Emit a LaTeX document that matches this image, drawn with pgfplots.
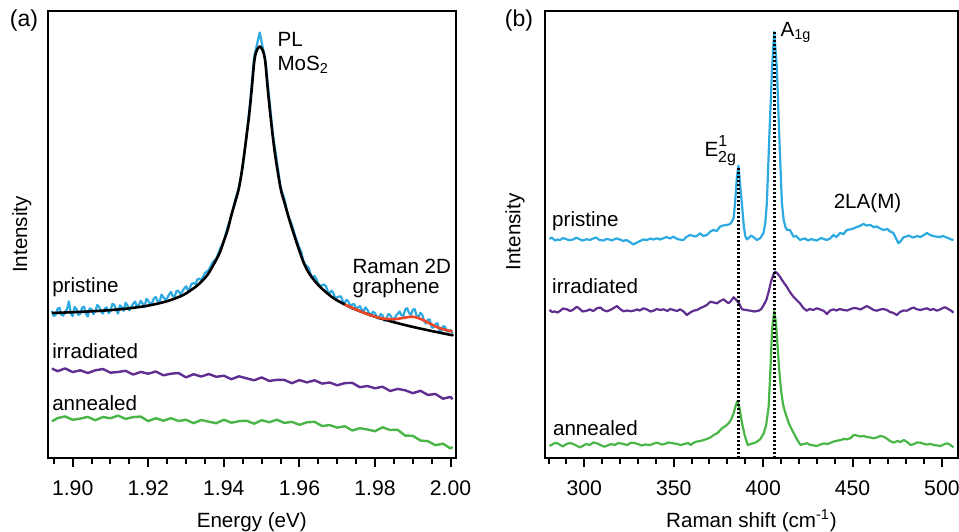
\documentclass[border=0pt]{standalone}
\usepackage{pgfplots}
\pgfplotsset{compat=1.18}
\usepackage{fontspec}
\setmainfont{Liberation Sans}
\definecolor{cblue}{RGB}{45,170,225}
\definecolor{cpurple}{RGB}{96,45,145}
\definecolor{cgreen}{RGB}{75,182,72}
\definecolor{cred}{RGB}{240,70,40}
\pgfplotsset{
  myaxis/.style={
    scale only axis, height=223.5pt, ymin=0, ymax=447, ytick=\empty,
    axis line style={line width=1pt},
    tick align=outside, xtick pos=bottom,
    major tick length=4.5pt, minor tick length=2.75pt,
    every tick/.append style={black, line width=1pt},
    /pgf/number format/assume math mode=true,
    anchor=south west,
    xticklabel style={yshift=-3.5pt, font=\fontsize{10.6}{12.5}\selectfont},
    every axis plot/.append style={line join=round},
  }
}
\begin{document}
\begin{tikzpicture}[font=\fontsize{10.3}{12.3}\selectfont]
\useasboundingbox (0,0) rectangle (479.5pt,265.5pt);
\node[font=\fontsize{11.5}{13}\selectfont] at (12pt,255pt) {(a)};
\node[font=\fontsize{11.5}{13}\selectfont] at (259.5pt,255pt) {(b)};
% ---------------- panel (a)
\begin{axis}[myaxis, at={(24pt,36.5pt)}, width=203.75pt,
  xmin=1.89347, xmax=2.0013,
  xtick={1.90,1.92,1.94,1.96,1.98,2.00},
  minor xtick={1.895,1.905,1.91,1.915,1.925,1.93,1.935,1.945,1.95,1.955,1.965,1.97,1.975,1.985,1.99,1.995},
  xticklabel style={/pgf/number format/.cd, fixed, fixed zerofill, precision=2},
  xlabel={Energy (eV)}, ylabel={Intensity},
  xlabel style={at={(axis description cs:0.5,-0.1544)}, anchor=base},
  ylabel style={at={(axis description cs:-0.064,0.5)}, anchor=center},
]
\addplot[cblue, line width=1.1pt] coordinates {
(1.8945,147.0)(1.8950,142.1)(1.8955,143.2)(1.896,149.2)(1.8965,150.3)(1.897,143.3)(1.8975,142.4)
(1.898,146.5)(1.8985,148.6)(1.899,156.6)(1.8995,144.7)(1.900,141.8)(1.9005,150.9)(1.901,149.0)
(1.9015,143.1)(1.902,144.2)(1.9025,150.3)(1.903,151.3)(1.9035,144.4)(1.904,141.5)(1.9045,149.6)
(1.905,148.7)(1.9055,143.8)(1.906,146.9)(1.9065,153.0)(1.907,151.1)(1.9075,146.3)(1.908,144.4)
(1.9085,149.5)(1.909,150.6)(1.9095,144.8)(1.910,146.9)(1.9105,154.1)(1.911,153.2)(1.9115,148.4)
(1.912,144.5)(1.9125,152.7)(1.913,150.9)(1.9135,147.1)(1.914,155.3)(1.9145,152.5)(1.915,147.7)
(1.9155,151.0)(1.916,154.2)(1.9165,156.5)(1.917,151.7)(1.9175,153.0)(1.918,157.2)(1.9185,154.5)
(1.919,150.8)(1.9195,159.1)(1.920,157.4)(1.9205,153.8)(1.921,155.2)(1.9215,159.6)(1.922,161.0)
(1.9225,156.5)(1.923,155.9)(1.9235,163.4)(1.924,160.8)(1.9245,158.3)(1.925,159.8)(1.9255,163.5)
(1.926,166.1)(1.9265,161.8)(1.927,161.5)(1.9275,167.3)(1.928,167.0)(1.9285,163.8)(1.929,166.5)
(1.9295,169.5)(1.930,171.7)(1.9305,167.9)(1.931,170.1)(1.9315,174.4)(1.932,174.7)(1.9325,174.1)
(1.933,178.6)(1.9335,179.3)(1.934,178)(1.9345,181)(1.935,185)
(1.936,188)(1.937,195.5)(1.938,199.3)(1.939,209)(1.940,217)(1.941,231)(1.942,242)(1.943,258)
(1.944,271)(1.945,291)(1.946,322)(1.947,357)(1.948,401)(1.949,417.5)(1.9495,425.5)(1.950,415.8)
(1.951,398)(1.952,360)(1.953,322.9)(1.954,298)(1.955,271)(1.956,259.4)(1.957,242.8)(1.958,233.3)
(1.959,220.5)(1.960,210)(1.9605,206.2)(1.961,197.5)(1.9615,193.2)(1.962,192)(1.9625,189.7)
(1.963,183.5)(1.9635,180.2)(1.964,182)(1.9645,178.7)(1.965,174.5)(1.9655,171.7)(1.966,173)
(1.9665,173.5)(1.967,172)(1.9675,166.4)(1.968,164.8)(1.9685,167.3)(1.969,164.9)(1.9695,159.8)
(1.970,160.7)(1.9705,161.6)(1.971,161.5)(1.9715,156.5)(1.972,155.5)(1.9725,158.3)(1.973,156.2)
(1.9735,151.4)(1.974,153.6)(1.9745,153.9)(1.975,149.3)(1.9755,150.5)(1.976,151.8)(1.9765,148)
(1.977,147.3)(1.9775,150.6)(1.978,148)(1.9785,144.3)(1.979,143.6)(1.9795,146.2)(1.980,144.8)
(1.9805,141.1)(1.981,139.5)(1.9815,144)(1.982,142.5)(1.9825,137.3)(1.983,139.1)(1.9835,144)
(1.984,142.9)(1.9845,139.8)(1.985,137.8)(1.9855,142)(1.986,144.2)(1.9865,146.5)(1.987,142.8)
(1.9875,142.1)(1.988,148.5)(1.9885,149.8)(1.989,145.1)(1.9895,143.2)(1.990,148.2)(1.9905,148.9)
(1.991,142.5)(1.9915,140.9)(1.992,145.2)(1.9925,143.4)(1.993,136.5)(1.9935,134.5)(1.994,138.5)
(1.9945,138.5)(1.995,130.5)(1.9955,130.6)(1.996,133.7)(1.9965,134.9)(1.997,128)(1.9975,126.4)
(1.998,131.8)(1.9985,131.3)(1.999,126.8)(1.9995,126.4)(2.000,128)(2.0005,124.4)
};
\addplot[black, line width=1.3pt, smooth] coordinates {
(1.8945,145.0)(1.900,145.8)(1.905,146.7)(1.910,147.9)(1.915,149.7)(1.920,152.4)(1.925,156.8)
(1.929,162.5)(1.931,167.1)(1.933,172.6)(1.935,180)(1.936,185)(1.937,191.5)(1.938,198.3)
(1.939,206)(1.940,217)(1.941,228)(1.942,243)(1.943,256)(1.944,270)(1.945,293)(1.9466,340)
(1.9474,370)(1.9480,395)(1.9484,404)(1.9489,409)(1.9495,411.5)(1.9501,409)(1.9506,404)
(1.951,395)(1.9516,370)(1.9524,340)(1.9535,305)(1.955,270)(1.956,256)(1.95735,238)(1.9593,215)
(1.961,196.5)(1.9625,185)(1.9645,175)(1.9665,167.5)(1.969,159.9)(1.972,153.5)(1.975,148.3)
(1.980,141.3)(1.985,135.8)(1.990,131.1)(1.995,127.0)(2.000,123.1)(2.0005,122.8)
};
\addplot[cred, line width=1.3pt, smooth] coordinates {
(1.972,153.5)(1.976,146.8)(1.979,142.6)(1.982,139.5)(1.985,138.8)(1.987,139.8)(1.9895,141.3)
(1.991,140.5)(1.993,137.5)(1.995,133.5)(1.997,130.0)(1.999,127.8)(2.0005,126.5)
};
\addplot[cpurple, line width=1.2pt] coordinates {
(1.8945,89.5)(1.896,86.8)(1.898,89.6)(1.900,85.9)(1.902,87.7)(1.904,85.0)(1.906,87.7)(1.908,89.0)
(1.910,85.3)(1.912,86.0)(1.914,87.2)(1.916,83.4)(1.918,86.1)(1.920,84.3)(1.922,86.5)(1.924,82.7)
(1.926,84.3)(1.928,85.0)(1.930,80.6)(1.932,83.8)(1.934,81.4)(1.936,84.0)(1.938,81.2)(1.940,82.3)
(1.942,78.8)(1.944,81.7)(1.946,79.7)(1.948,77.7)(1.950,80.6)(1.952,77.1)(1.954,78.1)(1.956,78.1)
(1.958,74.8)(1.960,77.9)(1.962,75.6)(1.964,77.7)(1.966,74.4)(1.968,75.5)(1.970,72.7)(1.972,74.9)
(1.974,75.1)(1.976,70.8)(1.978,72.0)(1.980,69.7)(1.982,71.3)(1.984,67.0)(1.986,69.1)(1.988,67.7)
(1.990,64.8)(1.992,67.2)(1.994,63.1)(1.996,64.0)(1.998,59.3)(2.000,61.1)(2.0005,58.7)
};
\addplot[cgreen, line width=1.2pt] coordinates {
(1.8945,36.7)(1.896,39.9)(1.898,41.6)(1.900,38.2)(1.902,39.4)(1.904,41.1)(1.906,37.8)(1.908,41.0)
(1.910,39.7)(1.912,42.4)(1.914,39.1)(1.916,40.9)(1.918,41.4)(1.920,36.9)(1.922,39.8)(1.924,37.3)
(1.926,39.8)(1.928,37.0)(1.930,38.2)(1.932,34.8)(1.934,38.0)(1.936,36.3)(1.938,34.8)(1.940,38.3)
(1.942,35.3)(1.944,36.8)(1.946,37.3)(1.948,34.3)(1.950,37.8)(1.952,35.8)(1.954,38.3)(1.956,35.1)
(1.958,36.1)(1.960,33.2)(1.962,35.7)(1.964,36.2)(1.966,32.0)(1.968,32.9)(1.970,30.4)(1.972,31.8)
(1.974,27.5)(1.976,29.8)(1.978,28.5)(1.980,26.8)(1.982,30.7)(1.984,28.0)(1.986,28.2)(1.988,22.4)
(1.990,22.2)(1.992,17.5)(1.994,16.8)(1.996,12.8)(1.998,14.3)(2.000,9.5)(2.0005,11.1)
};
\node[anchor=base west, inner sep=0pt] at (axis cs:1.8945,165.3) {pristine};
\node[anchor=base west, inner sep=0pt] at (axis cs:1.8945,99.6) {irradiated};
\node[anchor=base west, inner sep=0pt] at (axis cs:1.8945,48) {annealed};
\node[anchor=base west, inner sep=0pt] at (axis cs:1.9541,411.3) {PL};
\node[anchor=base west, inner sep=0pt] at (axis cs:1.9541,387.3) {MoS\textsubscript{2}};
\node[anchor=base west, inner sep=0pt] at (axis cs:1.97397,184.7) {Raman 2D};
\node[anchor=base west, inner sep=0pt] at (axis cs:1.97397,164.7) {graphene};
\end{axis}
% ---------------- panel (b)
\begin{axis}[myaxis, at={(272.5pt,36.5pt)}, width=206.5pt,
  xmin=278, xmax=509,
  xtick={300,350,400,450,500},
  minor xtick={280,290,310,320,330,340,360,370,380,390,410,420,430,440,460,470,480,490},
  xlabel={Raman shift (cm\textsuperscript{-1})}, ylabel={Intensity},
  xlabel style={at={(axis description cs:0.5,-0.1544)}, anchor=base},
  ylabel style={at={(axis description cs:-0.0726,0.506)}, anchor=center},
]
\addplot[cblue, line width=1.1pt] coordinates {
(280.5,219)(281.8,220.5)(283.5,217.5)(285,218.5)(286.4,218)(288,220)(289.5,219)(291.5,217.8)
(293.8,218.5)(295.5,220.5)(297,219)(299,217.5)(301.5,218.8)(303.2,218)(305,219.5)(306.5,220.5)
(308.5,218)(310.5,217.5)(312.5,219)(314,218.5)(315.5,217.5)(317,219)(318.5,219.5)(320.5,218)
(321.8,217)(323.5,218)(325,216.5)(327.4,213.5)(329.5,215.5)(331.2,217)(333,218.5)(335,218)
(337,219.5)(338.5,218.5)(340.5,219.7)(342.5,218.5)(344.5,220)(346,221)(348,219.5)(349.8,221.3)
(351.5,219.5)(353,218.5)(355.4,218)(357,221)(359.2,223)(361,222)(362.5,221.5)(364.7,224.7)
(366.5,222)(368.5,223)(370.5,226.5)(372.2,228)(374,227)(375.9,231.3)(377.5,232.5)(379.7,233)
(381.5,234)(382.5,236.3)(383.5,240)(384.3,255)(385.3,280)(386.2,292.3)(387.2,272)(388.1,255)
(389.2,232)(390,222)(390.9,218.7)(392,220)(393.2,222.5)(394.5,221)(396.5,218)(398.5,220)
(400.2,225)(401.2,235)(402.1,255)(403.5,323)(405,390)(406.2,426)(407.7,390)(409,323)(410.5,255)
(411.5,238)(412.5,231)(413.3,228)(415,228)(416.2,224)(417,221.3)(418.5,222)(420.7,218)(422,219)
(423.5,219.5)(425,217.5)(427,219)(428.5,218)(430,217.5)(432.5,220)(434,219)(435.5,218)
(437.5,219.5)(439.3,223)(441,221)(443.1,225)(445,224)(446.8,228)(448.5,228.5)(450.5,229.5)
(452.4,231)(454,232)(456.1,234)(458,232.5)(460,233)(461.7,231)(463.5,231.5)(465.5,229.5)
(467.3,228)(469.5,229)(471,226.5)(472.9,225)(474.2,220)(475.7,214.7)(477,217)(478.5,220.7)
(480,221.5)(481.5,222.5)(483.5,220.5)(485,221)(486,222)(488,221)(490,223)(491.6,225)(493.5,223)
(495,222)(496.5,221.5)(499,221)(500.5,222)(502,221)(504,219.5)(505.2,218.5)(506.5,218)
};
\addplot[cpurple, line width=1.1pt] coordinates {
(280.5,148)(282,146)(283.5,146.5)(285,145.5)(286.4,147)(288,149.5)(290.2,148.7)(292,147)
(293.5,148)(295.8,151.3)(297.5,149)(299,146.5)(301.4,147.3)(303,148.5)(305,147)(307,149.7)
(309,150.5)(310.5,148)(312.6,146.7)(314.5,148)(316.5,150)(318.2,152)(320,149)(321.9,146.7)
(324,147.5)(326,146.8)(327.5,147.3)(329.5,148.5)(331,147.5)(333.1,149.7)(335,148.5)(337,146.5)
(338.7,147.3)(340.5,149)(342.5,148)(344.3,148.7)(346.5,147)(348,149)(349.9,148)(351.8,147)
(353.6,148.7)(355.5,146.5)(357.4,143)(359.2,145.5)(361.1,147.3)(363,148)(365,150)(366.7,151.3)
(368.5,153)(370.5,156.3)(372.3,155.5)(374.2,154.7)(376,157)(377.9,158.7)(379.3,156.5)
(380.7,154.7)(382,157)(383.5,160.7)(385,158)(386.3,155.3)(388.2,148.7)(390.5,148)(392.9,147.3)
(395,146.5)(397.5,147.3)(399,149)(400.3,153)(401.8,158)(403.1,166.3)(404.5,177)(405.9,184)
(406.7,186.3)(408,184.5)(409.4,181.3)(411.3,176)(413.2,171.3)(415,166)(416.9,161.3)(418.7,158)
(420.6,154.7)(422.5,150)(424.4,147.3)(426,149)(428,148)(430,149.7)(432,148.5)(434,147)
(435.6,144)(437.5,147.5)(439.3,148.7)(441,147.5)(442.8,149)(444.9,148)(447,147.5)(449,149)
(450.7,150)(452.4,149.7)(454.5,148.5)(456,150)(458,152)(460,150)(461.8,148)(463.6,147.3)
(465.5,148.5)(467.3,149)(469.2,148)(471,146)(472.9,145)(474.8,143)(476.5,146)(478.5,147.5)
(480.4,147.3)(482.2,149)(484,150.5)(486,148.7)(488,148)(490,149)(491.6,149.7)(493.5,148)
(495.3,149)(497.2,147.3)(499,148.5)(500.5,150)(501.9,150.7)(503.5,149)(505,147.5)(506.5,145.3)
};
\addplot[cgreen, line width=1.1pt] coordinates {
(280.5,12)(282,13.5)(283.5,15)(285,14.7)(286.5,13)(288,11.5)(290,14)(292,15)(293.8,14)
(295.5,12.5)(297.5,10.7)(299,12)(301,14)(303,13)(305,15.5)(307,14.7)(309,13)(311,11.3)
(313,12.5)(315,14)(317,13)(319,15)(321.9,14)(324,13)(326,15.3)(328,15)(330,14)(332,12.5)
(334,13.5)(336.8,13)(339,14.5)(341,15.3)(343,13.5)(345,14)(347,15.5)(349.9,14.7)(352,14)
(354,13)(356,14)(358,15)(359.5,13)(361.1,15.3)(363,16.5)(365,17)(366.7,18)(368.5,19)
(370.5,20.5)(372.4,23)(374.5,25)(377,29.7)(379,32)(380.7,34.7)(382,38)(383.5,44.7)(384.6,52)
(385.6,57)(386.6,52)(388.2,34.7)(389.8,22)(391.4,13)(393,14)(395,15)(396.6,16.3)(398.5,19)
(400.3,24.7)(401.7,33)(403.1,51.3)(404,85)(405,128)(406.2,147)(407.2,135)(408.1,111.3)
(409,88)(410,68)(411.2,53)(412.5,44.7)(414.3,35)(416.2,28)(418.5,20)(420.9,13)(422.5,14)
(424.6,14.7)(426.5,13)(428.5,12.5)(430.2,12)(432,13.5)(434,14.5)(435.8,14)(437.5,15)
(439.5,16.5)(441.4,17.3)(443.5,18)(445,19)(447,18.7)(449,20)(450.7,23)(452.5,22.5)(454.5,21.5)
(456.3,22)(458,21)(460,20.5)(461.9,19.7)(463.5,20.5)(465.5,22)(467.5,21.3)(469.5,19)(471,17)
(473.1,15.3)(475,17)(476.8,16)(478.7,18)(480.5,16)(482.5,13)(484.5,14)(486,15.5)(488.1,15.3)
(490,14)(491.8,13.5)(493.7,14)(495.5,13)(497.5,12.5)(499.3,12)(501,13.5)(503,14.7)(504.8,13)
(506.5,10.7)
};
\addplot[black, line width=1.3pt, dash pattern=on 1pt off 1pt] coordinates {(386.3,0)(386.3,292)};
\addplot[black, line width=1.3pt, dash pattern=on 1pt off 1pt] coordinates {(406.2,0)(406.2,426)};
\node[anchor=base west, inner sep=0pt] at (axis cs:281.8,231.3) {pristine};
\node[anchor=base west, inner sep=0pt] at (axis cs:281.8,164.7) {irradiated};
\node[anchor=base west, inner sep=0pt] at (axis cs:282.3,23) {annealed};
\node[anchor=base west, inner sep=0pt] at (axis cs:439.3,249.7) {2LA(M)};
\node[anchor=base west, inner sep=0pt] at (axis cs:367,301.3) {E};
\node[anchor=base west, inner sep=0pt, font=\fontsize{8}{9}\selectfont] at (axis cs:374.8,312) {1};
\node[anchor=base west, inner sep=0pt, font=\fontsize{8}{9}\selectfont] at (axis cs:374.6,296) {2g};
\node[anchor=base west, inner sep=0pt] at (axis cs:409.5,421.3) {A\textsubscript{1g}};
\end{axis}
\end{tikzpicture}
\end{document}
